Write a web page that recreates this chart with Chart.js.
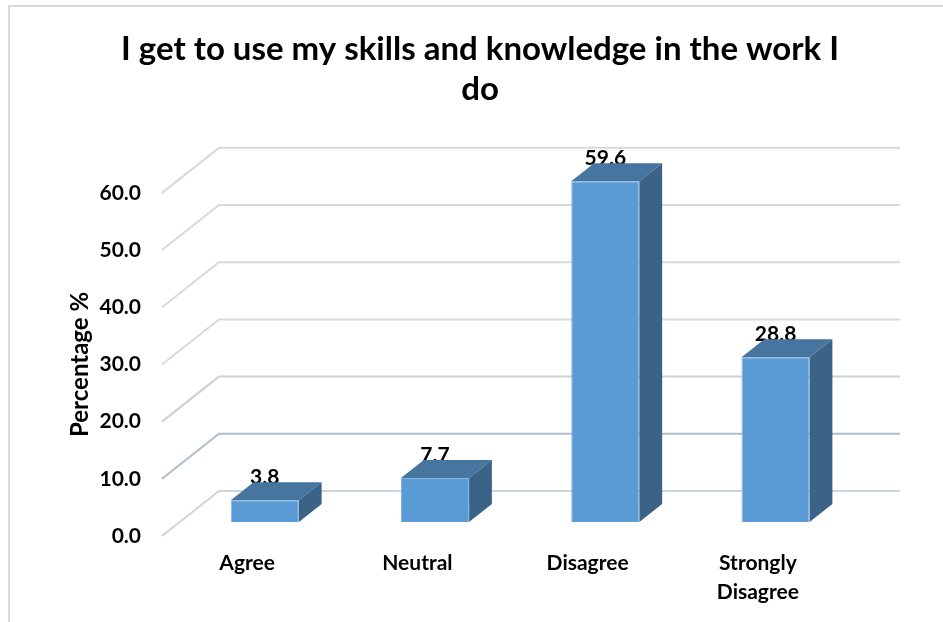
<!DOCTYPE html>
<html>
<head>
<meta charset="utf-8">
<script src="https://cdn.jsdelivr.net/npm/chart.js@4/dist/chart.umd.min.js"></script>
<style>
  html, body { margin: 0; padding: 0; background: #ffffff; }
  #wrap { width: 943px; height: 622px; position: relative; }
</style>
</head>
<body>
<div id="wrap"><canvas id="chart" width="943" height="622"></canvas></div>
<script>
// Survey responses, percentage of respondents
const categories = ['Agree', 'Neutral', 'Disagree', ['Strongly', 'Disagree']];
const percentages = [3.8, 7.7, 59.6, 28.8];
const yTicks = [0, 10, 20, 30, 40, 50, 60];
const titleLines = ['I get to use my skills and knowledge in the work I', 'do'];

const FONT = 'Lato';
const DEPTH = { x: 57, y: -45 };   // floor depth of the 3-D box (front plane -> back wall)
const BAR_FRONT = 0.31;            // where the bar front face sits inside that depth
const BAR_DEPTH = 0.40;            // bar thickness as a fraction of the depth
const FRONT_COLOR = '#5B9BD5';
const TOP_COLOR = '#4675A0';
const SIDE_COLOR = '#3A6387';
const GRID_COLORS = { 0: '#CBD5E0', 10: '#AFBCCB', 20: '#C9D1DA' };

// light outer frame of the chart box
const framePlugin = {
  id: 'frame',
  beforeDraw(chart) {
    const ctx = chart.ctx;
    ctx.save();
    ctx.strokeStyle = '#D9D9D9';
    ctx.lineWidth = 2;
    ctx.beginPath();
    ctx.moveTo(9, chart.height);
    ctx.lineTo(9, 6);
    ctx.lineTo(chart.width, 6);
    ctx.stroke();
    ctx.restore();
  }
};

// back wall gridlines, floor edges, and the 3-D bar faces with value labels
const boxPlugin = {
  id: 'box3d',
  beforeDatasetsDraw(chart) {
    const { ctx, chartArea: a, scales: { y } } = chart;
    ctx.save();
    ctx.lineWidth = 2;
    y.ticks.forEach(t => {
      const py = y.getPixelForValue(t.value);
      ctx.strokeStyle = GRID_COLORS[t.value] || '#D9D9D9';
      ctx.beginPath();
      ctx.moveTo(a.left, py);
      ctx.lineTo(a.left + DEPTH.x, py + DEPTH.y);
      ctx.lineTo(a.right + DEPTH.x, py + DEPTH.y);
      ctx.stroke();
    });
    ctx.restore();
    // bars are pushed back into the box
    ctx.save();
    ctx.translate(BAR_FRONT * DEPTH.x, BAR_FRONT * DEPTH.y);
  },
  afterDatasetsDraw(chart) {
    const ctx = chart.ctx;
    const dx = BAR_DEPTH * DEPTH.x, dy = BAR_DEPTH * DEPTH.y;
    chart.getDatasetMeta(0).data.forEach((bar, i) => {
      const { x, y, base, width } = bar.getProps(['x', 'y', 'base', 'width'], true);
      const l = x - width / 2, r = x + width / 2;
      ctx.font = `bold 21px ${FONT}`;
      ctx.fillStyle = '#000000';
      ctx.textAlign = 'center';
      ctx.textBaseline = 'alphabetic';
      ctx.fillText(percentages[i].toFixed(1), x, y + dy + 2);
      ctx.fillStyle = TOP_COLOR;
      ctx.beginPath();
      ctx.moveTo(l, y); ctx.lineTo(l + dx, y + dy); ctx.lineTo(r + dx, y + dy); ctx.lineTo(r, y);
      ctx.closePath(); ctx.fill();
      ctx.fillStyle = SIDE_COLOR;
      ctx.beginPath();
      ctx.moveTo(r, y); ctx.lineTo(r + dx, y + dy); ctx.lineTo(r + dx, base + dy); ctx.lineTo(r, base);
      ctx.closePath(); ctx.fill();
    });
    ctx.restore();
  }
};

const tickFont = { family: FONT, weight: 'bold', size: 21 };

new Chart(document.getElementById('chart'), {
  type: 'bar',
  data: {
    labels: categories,
    datasets: [{
      data: percentages,
      backgroundColor: FRONT_COLOR,
      borderColor: '#86B4E0',
      borderWidth: 1,
      categoryPercentage: 1.0,
      barPercentage: 0.4
    }]
  },
  options: {
    responsive: false,
    animation: false,
    devicePixelRatio: 1,
    layout: { padding: { left: 17, right: 0, top: 0, bottom: 0 } },
    plugins: {
      legend: { display: false },
      tooltip: { enabled: false },
      title: {
        display: true,
        text: titleLines,
        color: '#000000',
        font: { family: FONT, weight: 'bold', size: 33, lineHeight: 1.21 },
        padding: { top: 29, bottom: 84 }
      }
    },
    scales: {
      x: {
        grid: { display: false, drawTicks: false },
        border: { display: false },
        ticks: { color: '#000000', font: { ...tickFont, lineHeight: 1.38 }, padding: 13, maxRotation: 0 },
        afterFit(s) { s.height = 86; }
      },
      y: {
        min: 0, max: 60,
        afterBuildTicks(s) { s.ticks = yTicks.map(v => ({ value: v })); },
        grid: { display: false, drawTicks: false },
        border: { display: false },
        ticks: { color: '#000000', font: tickFont, padding: 21, callback: v => Number(v).toFixed(1) },
        title: {
          display: true, text: 'Percentage %', color: '#000000',
          font: { family: FONT, weight: 'bold', size: 24, lineHeight: 1.2 }, padding: { top: 49, bottom: 0 }
        },
        afterFit(s) { s.width = 145; }
      },
      yRight: {
        position: 'right',
        display: true,
        grid: { display: false, drawTicks: false },
        border: { display: false },
        ticks: { display: false },
        afterFit(s) { s.width = 100; }
      }
    }
  },
  plugins: [framePlugin, boxPlugin]
});
</script>
</body>
</html>
